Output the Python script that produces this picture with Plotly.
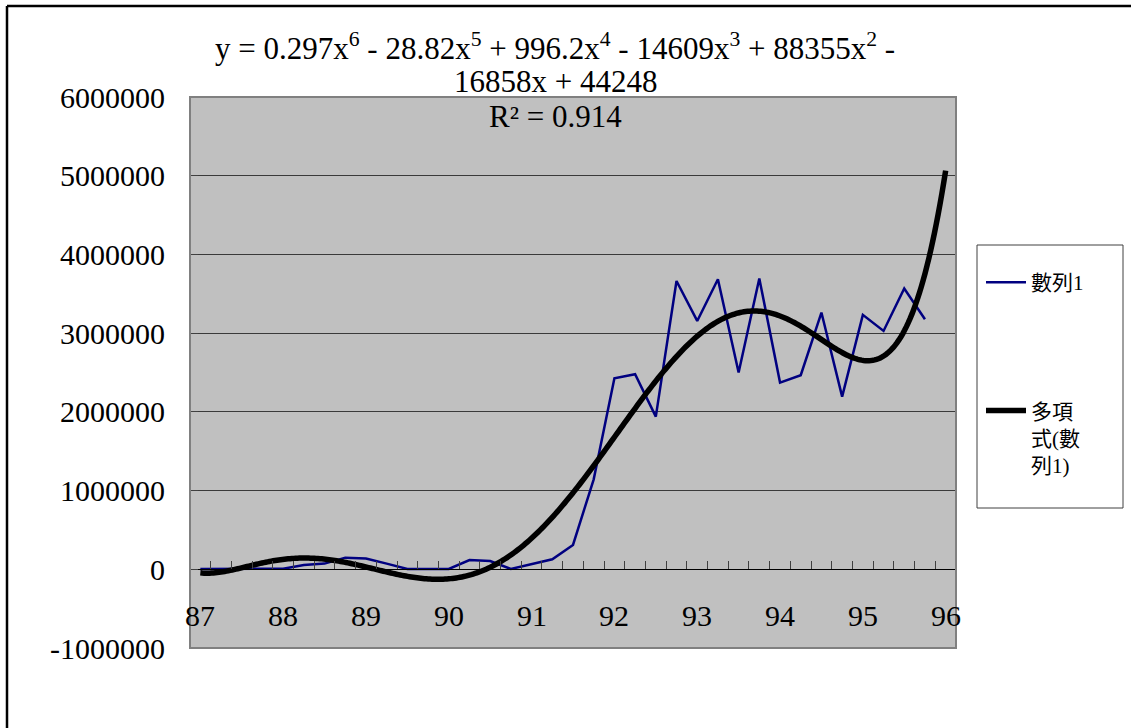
import numpy as np
import plotly.graph_objects as go

# Quarterly series, periods 1..36 (87年第1季 ... 95年第4季)
values = [
    5000, 5000, 5000, 5000, 8000, 55000, 72000, 148000, 136000,
    72000, 5000, 5000, 5000, 118000, 105000, 5000, 63000, 127000,
    309000, 1143000, 2427000, 2478000, 1940000, 3663000, 3155000, 3685000,
    2499000, 3694000, 2372000, 2465000, 3262000, 2194000, 3232000, 3028000,
    3567000, 3177000,
]
year_labels = ["87", "88", "89", "90", "91", "92", "93", "94", "95", "96"]
y_ticks = [-1000000, 0, 1000000, 2000000, 3000000, 4000000, 5000000, 6000000]

series_name = "數列1"
trend_name = "多項<br>式(數<br>列1)"
equation_lines = [
    "y = 0.297x<sup>6</sup> - 28.82x<sup>5</sup> + 996.2x<sup>4</sup> - "
    "14609x<sup>3</sup> + 88355x<sup>2</sup> -",
    "16858x + 44248",
    "R² = 0.914",
]

periods = np.arange(1, len(values) + 1)
n_periods = len(values) + 1  # trendline forecast one period forward

# 6th-order polynomial trendline fitted to the series
coef = np.polyfit(periods, values, 6)
xs = np.linspace(1, n_periods, 400)
trend = np.polyval(coef, xs)

# plot-area geometry (pixels)
W, H = 1131, 728
L, R, T, B = 190, 956, 97, 648
y_min, y_max = -1000000, 6000000


def px(x):
    return (x - L) / (R - L)


def py(y):
    return (B - y) / (B - T)


SERIF = "Liberation Serif, Times New Roman, Noto Sans CJK TC, serif"

fig = go.Figure()
fig.add_trace(go.Scatter(
    x=periods, y=values, mode="lines", name=series_name,
    line=dict(color="#000080", width=2.5), legendgroup="a",
))
fig.add_trace(go.Scatter(
    x=xs, y=trend, mode="lines", name=trend_name,
    line=dict(color="#000000", width=5.5, simplify=False), legendgroup="b",
))

label_pos = [1 + 4 * i for i in range(len(year_labels))]

fig.update_layout(
    width=W, height=H, autosize=False,
    margin=dict(l=L, r=W - R, t=T, b=H - B, pad=0),
    paper_bgcolor="white",
    plot_bgcolor="#C0C0C0",
    font=dict(family=SERIF, size=30, color="black"),
    showlegend=True,
    legend=dict(
        x=px(981), y=py(262), xanchor="left", yanchor="top",
        bgcolor="rgba(0,0,0,0)", borderwidth=0,
        font=dict(family="Liberation Serif, Noto Sans CJK TC, serif", size=21),
        tracegroupgap=98, itemwidth=40, valign="top",
        traceorder="grouped",
    ),
    xaxis=dict(
        range=[0.5, n_periods + 0.5],
        anchor="free", position=(0 - y_min) / (y_max - y_min),
        showline=True, linecolor="black", linewidth=1,
        showgrid=False, zeroline=False,
        showticklabels=False, ticks="",
        minor=dict(ticks="inside", ticklen=8, tickwidth=1, tickcolor="#404040",
                   tickmode="linear", tick0=0.5, dtick=1, showgrid=False),
    ),
    yaxis=dict(
        range=[y_min, y_max],
        tickmode="array", tickvals=y_ticks, ticktext=[str(v) for v in y_ticks],
        showgrid=True, gridcolor="#3a3a3a", gridwidth=1,
        zeroline=False,
        showline=True, linecolor="#404040", linewidth=1,
        ticks="inside", ticklen=8, tickcolor="#404040",
        ticklabelstandoff=18,
        tickfont=dict(family=SERIF, size=30),
    ),
)

# year labels under the zero line, one per four periods
for pos, lab in zip(label_pos, year_labels):
    fig.add_annotation(
        text=lab, xref="x", yref="y", x=pos, y=0,
        xanchor="center", yanchor="top", yshift=-28,
        showarrow=False, font=dict(family=SERIF, size=30, color="black"),
    )

# plot-area border
fig.add_shape(type="rect", xref="paper", yref="paper",
              x0=0, x1=1, y0=0, y1=1,
              line=dict(color="#808080", width=2), layer="above")
# legend box
fig.add_shape(type="rect", xref="paper", yref="paper",
              x0=px(977), x1=px(1123), y0=py(508), y1=py(245),
              line=dict(color="#404040", width=1))
# chart frame (top and left edges fall inside the page)
fig.add_shape(type="line", xref="paper", yref="paper",
              x0=px(7), x1=px(W), y0=py(6), y1=py(6),
              line=dict(color="black", width=2.5))
fig.add_shape(type="line", xref="paper", yref="paper",
              x0=px(7), x1=px(7), y0=py(6), y1=py(H),
              line=dict(color="black", width=2.5))

# trendline equation and R²
line_y = [47, 82, 117]
for text, yy in zip(equation_lines, line_y):
    fig.add_annotation(
        text=text, xref="paper", yref="paper",
        x=px(555), y=py(yy), xanchor="center", yanchor="middle",
        showarrow=False, font=dict(family=SERIF, size=31, color="black"),
    )

fig.write_html("out.html")
